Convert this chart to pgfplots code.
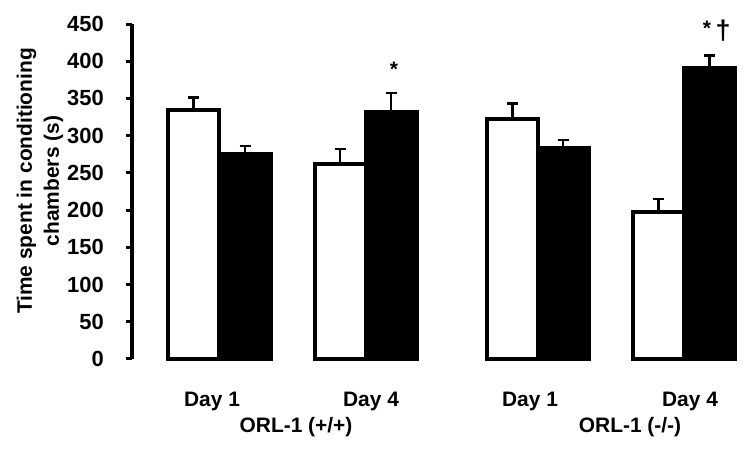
\documentclass[border=0pt]{standalone}
\usepackage{fontspec}
\setmainfont{Liberation Sans}
\usepackage{pgfplots}
\pgfplotsset{compat=1.18}
\begin{document}
\begin{tikzpicture}
\begin{axis}[
  at={(132bp,91bp)}, anchor=south west,
  scale only axis, width=613bp, height=335bp,
  xmin=132, xmax=745, ymin=0, ymax=450,
  clip=false,
  axis lines*=left,
  x axis line style={draw=none},
  y axis line style={line width=3.5bp},
  ytick={0,50,...,450},
  ytick style={line width=3bp, black},
  tick align=outside,
  major tick length=6bp,
  /pgf/number format/assume math mode=true,
  yticklabel style={font=\fontsize{22}{24}\selectfont\bfseries, anchor=east, inner sep=0pt, xshift=-22bp},
  xtick={212,371,530,690},
  xticklabels={Day 1,Day 4,Day 1,Day 4},
  x tick style={draw=none},
  xticklabel style={font=\fontsize{21}{24}\selectfont\bfseries, anchor=base, inner sep=0pt, yshift=-41bp},
]
\addplot[ybar, bar width=51, bar shift=0, fill=white, draw=black, line width=4bp,
  error bars/.cd, y dir=plus, y explicit,
  error bar style={line width=2.5bp, black},
  error mark options={rotate=90, mark size=5.5bp, line width=2.5bp, black}]
  coordinates {(193.5,334) +- (0,17) (340,262) +- (0,20) (512.5,322) +- (0,21) (658.5,198) +- (0,17)};
\addplot[ybar, bar width=51, bar shift=0, fill=black, draw=black, line width=4bp,
  error bars/.cd, y dir=plus, y explicit,
  error bar style={line width=2.5bp, black},
  error mark options={rotate=90, mark size=5.5bp, line width=2.5bp, black}]
  coordinates {(245,276) +- (0,10) (391,332) +- (0,25) (563,284) +- (0,10) (709.5,391) +- (0,17)};
\node[anchor=base, font=\fontsize{21}{24}\selectfont\bfseries] at (axis cs:394,379) {*};
\node[anchor=base, font=\fontsize{21}{24}\selectfont\bfseries] at (axis cs:707,434) {*};
\node[anchor=base, font=\fontsize{27}{28}\selectfont\bfseries] at (axis cs:723,429) {†};
\node[anchor=base, font=\fontsize{21}{24}\selectfont\bfseries] at (axis cs:296,-99.4) {ORL-1 (+/+)};
\node[anchor=base, font=\fontsize{21}{24}\selectfont\bfseries] at (axis cs:630,-99.4) {ORL-1 (-/-)};
\end{axis}
\node[rotate=90, align=center, font=\fontsize{21}{27}\selectfont\bfseries] at (40bp,269bp) {Time spent in conditioning\\chambers (s)};
\pgfresetboundingbox
\path (0,0) rectangle (750bp,450bp);
\end{tikzpicture}
\end{document}
